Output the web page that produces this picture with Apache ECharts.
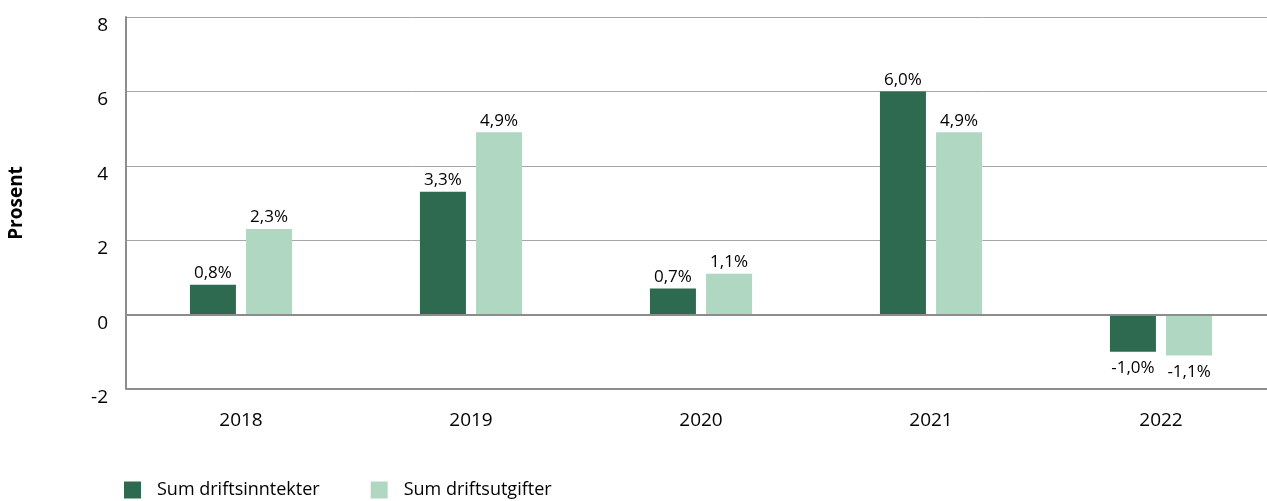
<!DOCTYPE html>
<html>
<head>
<meta charset="utf-8">
<script src="https://cdn.jsdelivr.net/npm/echarts@6/dist/echarts.min.js"></script>
<style>
  html, body { margin: 0; padding: 0; background: #fff; }
  #chart { width: 1267px; height: 501px; }
</style>
</head>
<body>
<div id="chart"></div>
<script>
// 数据
const years = ['2018', '2019', '2020', '2021', '2022'];
const inntekter = [0.8, 3.3, 0.7, 6.0, -1.0];
const utgifter = [2.3, 4.9, 1.1, 4.9, -1.1];
const seriesNames = ['Sum driftsinntekter', 'Sum driftsutgifter'];

const FONT = 'Open Sans';

function pct(p) {
  return p.value.toFixed(1).replace('.', ',') + '%';
}

// 负值的标签离柱子远一点
function withLabels(values) {
  return values.map(v => (v < 0 ? { value: v, label: { distance: 8 } } : v));
}

const chart = echarts.init(document.getElementById('chart'));

chart.setOption({
  animation: false,
  textStyle: { fontFamily: FONT, color: '#000' },
  // 右侧超出画布, 保证类目间距为 230
  grid: { left: 126, width: 1150, top: 17, height: 372, containLabel: false, outerBoundsMode: 'none' },
  legend: {
    left: 119,
    top: 476,
    itemWidth: 17,
    itemHeight: 17,
    itemGap: 51,
    icon: 'rect',
    textStyle: { fontFamily: FONT, fontSize: 18, color: '#000', padding: [0, 0, 0, 11] },
    data: seriesNames
  },
  xAxis: {
    type: 'category',
    data: years,
    axisLine: { show: false },
    axisTick: { show: false },
    axisLabel: { fontFamily: FONT, fontSize: 19, color: '#000', margin: 22 }
  },
  yAxis: {
    type: 'value',
    min: -2,
    max: 8,
    interval: 2,
    name: 'Prosent',
    nameLocation: 'middle',
    nameGap: 100,
    nameRotate: 90,
    nameTextStyle: { fontFamily: FONT, fontSize: 19, fontWeight: 'bold', color: '#000' },
    axisLine: { show: true, lineStyle: { color: '#8c8c8c', width: 2 } },
    axisTick: { show: false },
    axisLabel: { fontFamily: FONT, fontSize: 19, color: '#000', margin: 18, verticalAlign: 'top', lineHeight: 17 },
    splitLine: { lineStyle: { color: '#a6a6a6', width: 1 } }
  },
  series: [
    {
      name: seriesNames[0],
      type: 'bar',
      data: withLabels(inntekter),
      barWidth: 46,
      barGap: '22%',
      itemStyle: { color: '#2d6a50' },
      label: { show: true, position: 'outside', formatter: pct, fontFamily: FONT, fontSize: 17, color: '#000', distance: 3 },
      markLine: {
        silent: true,
        symbol: 'none',
        label: { show: false },
        lineStyle: { color: '#8c8c8c', width: 2, type: 'solid' },
        data: [{ yAxis: 0 }, { yAxis: -2 }]
      }
    },
    {
      name: seriesNames[1],
      type: 'bar',
      data: withLabels(utgifter),
      barWidth: 46,
      itemStyle: { color: '#b0d7c1' },
      label: { show: true, position: 'outside', formatter: pct, fontFamily: FONT, fontSize: 17, color: '#000', distance: 3 }
    }
  ]
});
</script>
</body>
</html>
